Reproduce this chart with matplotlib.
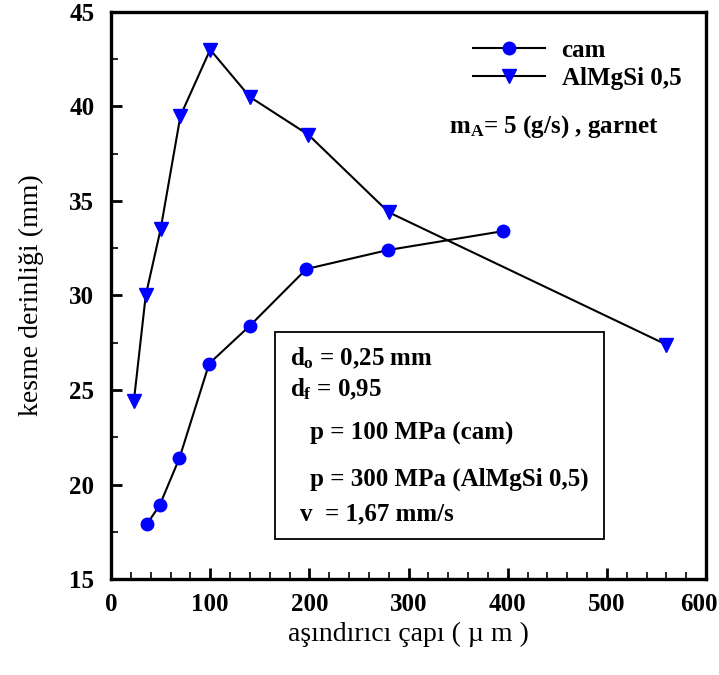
import matplotlib.pyplot as plt
from matplotlib.patches import Rectangle
from matplotlib.transforms import ScaledTranslation

# ------------------------------------------------------------
# Veri
# ------------------------------------------------------------
cam_x = [36, 49, 69, 99, 140, 197, 279, 395]
cam_y = [17.9, 18.9, 21.4, 26.4, 28.4, 31.4, 32.4, 33.4]

al_x = [23, 35, 50, 70, 100, 140, 199, 280, 560]
al_y = [24.4, 30.0, 33.5, 39.5, 43.0, 40.5, 38.5, 34.4, 27.4]

x_ticks = [0, 100, 200, 300, 400, 500, 600]
y_ticks = [15, 20, 25, 30, 35, 40, 45]

box_lines = [
    r"$d_o$ = 0,25 mm",
    r"$d_f$ = 0,95",
    "p = 100 MPa (cam)",
    "p = 300 MPa (AlMgSi 0,5)",
    "v  = 1,67 mm/s",
]

# ------------------------------------------------------------
# Stil
# ------------------------------------------------------------
plt.rcParams["font.family"] = ["Liberation Serif", "DejaVu Serif"]
plt.rcParams["font.weight"] = "bold"
plt.rcParams["mathtext.fontset"] = "custom"
plt.rcParams["mathtext.rm"] = "Liberation Serif:bold"
plt.rcParams["mathtext.it"] = "Liberation Serif:bold"
plt.rcParams["mathtext.bf"] = "Liberation Serif:bold"

fig = plt.figure(figsize=(7.19, 6.75), dpi=100)
ax = fig.add_axes([0.1544, 0.142, 0.8276, 0.8405])

ax.plot(cam_x, cam_y, color="black", lw=1.5, marker="o", ms=9,
        mfc="#0000ff", mec="#0000ff", label="cam", zorder=3)
ax.plot(al_x, al_y, color="black", lw=1.5, marker="v", ms=10,
        mfc="#0000ff", mec="#0000ff", label="AlMgSi 0,5", zorder=3)

ax.set_xlim(0, 600)
ax.set_ylim(15, 45)
ax.set_xticks(x_ticks)
ax.set_yticks(y_ticks)
ax.set_xticks(range(0, 601, 20), minor=True)
ax.set_yticks([15 + 2.5 * i for i in range(13)], minor=True)

ax.tick_params(axis="both", which="major", direction="in", length=8,
               width=2, labelsize=18, top=False, right=False)
ax.tick_params(axis="both", which="minor", direction="in", length=5,
               width=1.2, top=False, right=False)
ax.tick_params(axis="x", which="major", pad=10)
ax.tick_params(axis="y", which="major", pad=12)

for s in ax.spines.values():
    s.set_linewidth(2.4)

# 600 etiketi kenarda kesilmesin diye biraz sola
last = ax.get_xticklabels()[-1]
last.set_transform(last.get_transform() +
                   ScaledTranslation(-5 / 72, 0, fig.dpi_scale_trans))

ax.set_xlabel("aşındırıcı çapı ( µ m )", fontsize=20, fontweight="normal",
              labelpad=4)
ax.set_ylabel("kesme derinliği (mm)", fontsize=20, fontweight="normal",
              labelpad=18)

ax.legend(loc="upper left", bbox_to_anchor=(0.608, 0.952), frameon=False,
          fontsize=18, handlelength=2.9, handletextpad=0.65,
          borderpad=0, borderaxespad=0, labelspacing=0.2)

ax.text(0.568, 0.788, r"m$_A$= 5 (g/s) , garnet", transform=ax.transAxes,
        fontsize=18, va="baseline", ha="left")

# kutu
ax.add_patch(Rectangle((0.2756, 0.0705), 0.553, 0.3655,
                       transform=ax.transAxes, fill=False,
                       edgecolor="black", lw=1.3))
line_x = [0.301, 0.301, 0.334, 0.334, 0.318]
line_y = [0.377, 0.3226, 0.2468, 0.1657, 0.104]
for txt, lx, ly in zip(box_lines, line_x, line_y):
    ax.text(lx, ly, txt, transform=ax.transAxes, fontsize=18,
            va="baseline", ha="left")

fig.savefig("out.png", dpi=100)
